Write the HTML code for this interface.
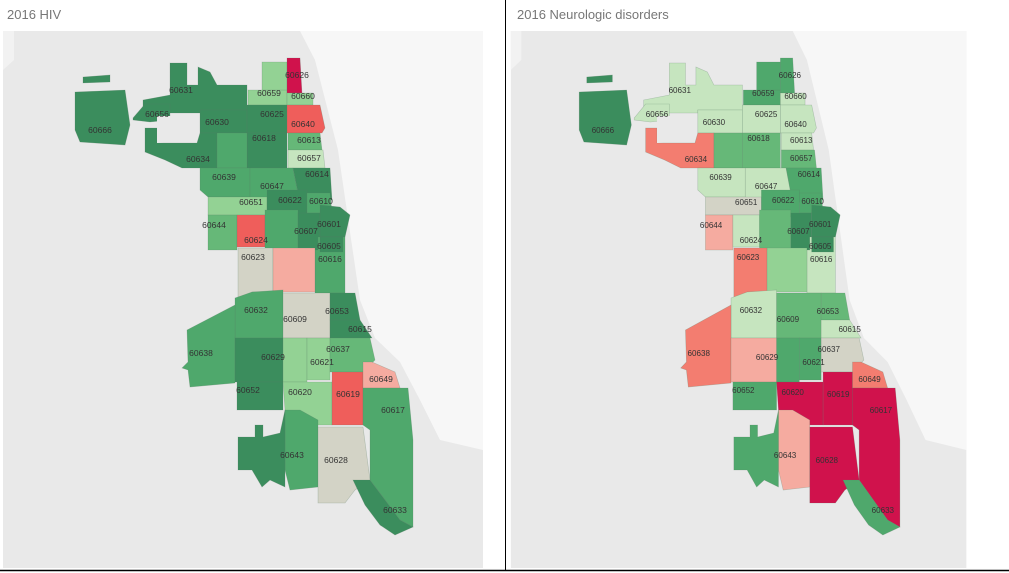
<!DOCTYPE html>
<html><head><meta charset="utf-8">
<style>
body{margin:0;background:#fff;width:1009px;height:573px;overflow:hidden;font-family:"Liberation Sans",sans-serif}
svg{position:absolute;left:0;top:0}
</style></head>
<body>
<svg id="s" width="1009" height="573" xmlns="http://www.w3.org/2000/svg">
<text x="7" y="19" font-size="13" fill="#777" font-family="Liberation Sans, sans-serif">2016 HIV</text>
<text x="517" y="19" font-size="13" fill="#777" font-family="Liberation Sans, sans-serif">2016 Neurologic disorders</text>
<line x1="505.5" y1="0" x2="505.5" y2="571" stroke="#000" stroke-width="1"/>
<line x1="0" y1="570.5" x2="1009" y2="570.5" stroke="#000" stroke-width="1.5"/>
<g id="L"></g>
<g id="R" transform="translate(508,0) scale(0.949,1)"></g>
</svg>
<script>
const C={D:"#3b8d5d",M:"#4fa86c",m:"#66b878",l:"#93d294",v:"#c6e5bf",g:"#d3d3c6",p:"#f5aba0",s:"#f37d70",r:"#ef5e5b",c:"#d0124c"};
// [id, poly, hiv, neuro, labelx, labely]
const Z=[
["60666","75,92 125,90 130,125 125,145 80,142 75,130",'D','D',100,133],
["","83,77 110,75 110,82 83,83",'D','D',0,0],
["60631","143,100 170,95 170,63 187,63 187,85 198,85 198,67 210,72 217,85 247,85 247,110 200,110 200,113 143,113",'D','v',181,93],
["60656","133,118 145,104 170,104 170,120 150,122 133,120",'D','v',157,117],
["60630","200,110 247,110 247,133 200,133",'D','v',217,125],
["60634","145,128 157,128 157,143 197,143 200,133 217,133 217,168 182,168 165,160 145,152",'D','s',198,162],
["60659","248,90 287,90 287,105 248,105",'l','M',269,96],
["60645","262,62 287,62 287,90 262,90",'l','M',0,0],
["60626","287,58 300,58 302,93 287,93",'c','M',297,78],
["60660","287,93 313,93 313,105 287,105",'l','v',303,99],
["60625","247,105 287,105 287,133 247,133",'D','v',272,117],
["60640","287,105 320,105 325,128 322,133 287,133",'r','v',303,127],
["60618","247,133 287,133 287,168 247,168",'D','m',264,141],
["","217,133 247,133 247,168 217,168",'M','m',0,0],
["60613","288,133 320,133 322,150 288,150",'m','v',309,143],
["60657","288,150 323,150 325,168 288,168",'v','m',309,161],
["60639","200,168 250,168 250,197 208,197 200,190",'M','v',224,180],
["60647","250,168 293,168 300,203 267,203 250,197",'M','v',272,189],
["60614","293,168 330,168 332,200 300,203",'D','M',317,177],
["60651","208,197 267,197 267,215 208,215",'l','g',251,205],
["60622","267,190 307,190 307,217 267,217",'D','M',290,203],
["60610","307,193 330,193 332,213 307,213",'M','M',321,204],
["60644","208,215 237,215 237,250 208,250",'m','p',214,228],
["60624","237,215 265,215 265,247 237,247",'r','v',256,243],
["60612","265,210 298,210 298,250 265,250",'M','m',0,0],
["60607","298,213 320,213 320,250 298,250",'D','D',306,234],
["60601","320,205 340,207 350,215 345,237 320,237",'D','D',329,227],
["60616","318,237 345,237 345,293 315,293 315,250 318,250",'M','v',330,262],
["60605","320,237 343,237 343,252 320,252",'D','D',329,249],
["60623","238,248 273,248 273,292 252,292 245,300 238,300",'g','s',253,260],
["60608","273,248 315,248 315,292 273,292",'p','l',0,0],
["60632","235,298 252,292 283,290 283,338 235,338",'M','v',256,313],
["60609","283,293 330,293 330,338 283,338",'g','m',295,322],
["60653","330,293 355,293 360,320 330,320",'D','m',337,314],
["60615","330,320 360,320 372,338 330,338",'D','v',360,332],
["60638","187,330 235,305 235,383 190,387 188,370 182,368 188,362",'M','s',201,356],
["60629","235,338 283,338 283,382 235,382",'D','p',273,360],
["60652","237,382 283,382 283,410 237,410",'D','M',248,393],
["","283,338 307,338 307,382 283,382",'l','M',0,0],
["60621","307,338 330,338 330,380 307,380",'l','M',322,365],
["60637","330,338 370,338 375,360 363,372 330,372",'m','g',338,352],
["60620","283,382 332,382 332,425 295,425 285,410",'l','c',300,395],
["60619","332,372 363,372 363,425 332,425",'r','c',348,397],
["60649","363,362 372,362 395,372 400,388 363,388",'p','s',381,382],
["60617","363,388 408,388 413,440 413,527 400,520 370,480 370,430 363,425",'M','c',393,413],
["60643","285,410 300,410 318,420 318,487 290,490 285,470",'M','p',292,458],
["60628","318,427 363,427 370,480 355,490 345,503 318,503",'g','c',336,463],
["","238,437 255,437 255,425 263,425 263,437 280,433 285,410 285,487 270,480 262,487 252,470 238,470",'D','M',0,0],
["60633","353,480 370,480 400,520 413,527 413,527 395,535 380,525 365,505",'D','M',395,513]
];
function build(g,k){
 let h=`<rect x="3" y="31" width="480" height="537" fill="#e9e9e9"/>
 <polygon points="300,31 483,31 483,450 440,440 420,400 400,362 375,338 360,300 350,232 338,150 315,60" fill="#f7f7f7"/>
 <polygon points="3,31 14,31 14,60 3,70" fill="#f2f2f2"/>`;
 for(const z of Z){h+=`<polygon points="${z[1]}" fill="${C[z[k]]}" stroke="#5a7a64" stroke-opacity="0.35" stroke-width="0.6"/>`;}
 h+=`<polygon points="157,116 197,116 197,140 157,143" fill="#e9e9e9"/>`;
 for(const z of Z){if(z[0]&&z[4])h+=`<text x="${z[4]}" y="${z[5]}" font-size="8.5" text-anchor="middle" fill="#333" font-family="Liberation Sans, sans-serif">${z[0]}</text>`;}
 g.innerHTML=h;
}
build(document.getElementById('L'),2);
build(document.getElementById('R'),3);
</script>
</body></html>
